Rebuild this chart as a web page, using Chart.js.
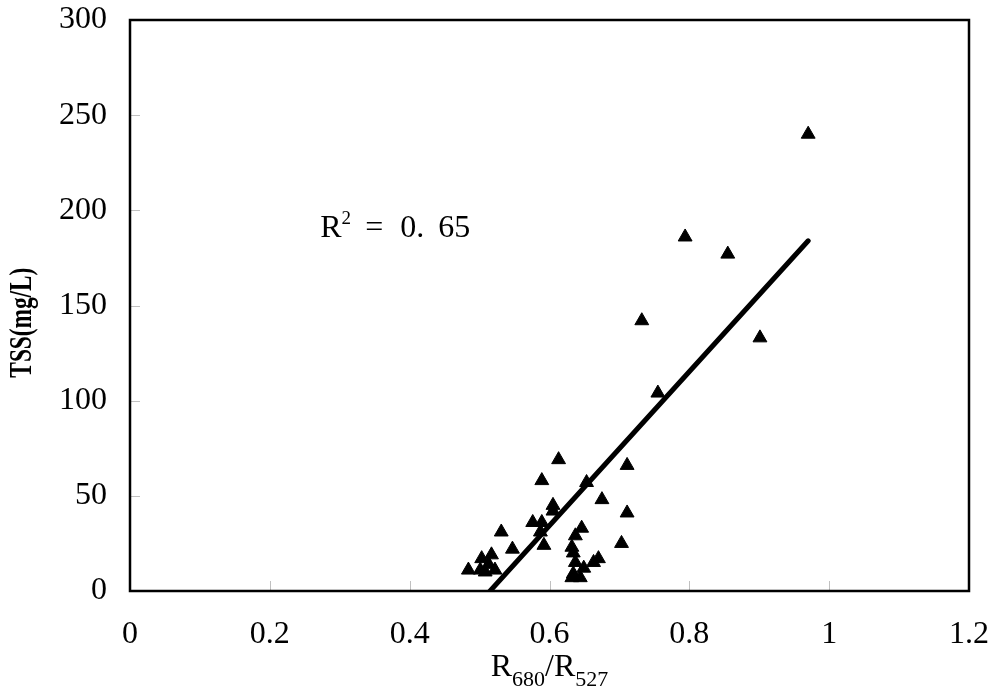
<!DOCTYPE html>
<html><head><meta charset="utf-8">
<script src="https://cdn.jsdelivr.net/npm/chart.js@4/dist/chart.umd.min.js"></script>
<style>html,body{margin:0;padding:0;background:#fff}canvas{display:block}</style>
</head><body>
<canvas id="c" width="1000" height="697"></canvas>
<script>
// ---- data ----
const ratioValues = [0.970, 0.794, 0.855, 0.732, 0.901, 0.755, 0.613, 0.711, 0.589, 0.653,
  0.675, 0.605, 0.605, 0.711, 0.589, 0.576, 0.646, 0.531, 0.587, 0.637,
  0.703, 0.592, 0.632, 0.547, 0.634, 0.517, 0.503, 0.670, 0.637, 0.663,
  0.513, 0.649, 0.484, 0.501, 0.522, 0.508, 0.634, 0.644, 0.632];
const tssValues = [240, 186, 177, 142, 133, 104, 69, 66, 58, 57,
  48, 45, 42, 41, 36, 36, 33, 31, 31, 29,
  25, 24, 23, 22, 20, 19, 17, 17, 15, 15,
  14, 12, 11, 11, 11, 10, 9, 7, 7];
const fitRatio = [0.515, 0.970];
const fitTss = [0, 184];
const xAxisRange = [0, 1.2];
const yAxisRange = [0, 300];
const xStep = 0.2;
const yStep = 50;
const yTitleText = 'TSS(mg/L)';
const xTitleParts = ['R', '680', '/R', '527'];
const r2Parts = ['R', '2', '=', '0.', '65'];
const r2Anchor = [0.272, 186];

const SERIF = '"Liberation Serif", "DejaVu Serif", serif';

const deco = {
  id: 'deco',
  beforeDraw(chart) {
    const ctx = chart.ctx;
    ctx.save();
    ctx.fillStyle = '#fff';
    ctx.fillRect(0, 0, chart.width, chart.height);
    ctx.restore();
  },
  beforeDatasetsDraw(chart) {
    const { ctx, chartArea: a, scales: { x, y } } = chart;
    ctx.save();
    ctx.strokeStyle = '#c0c0c0';
    ctx.lineWidth = 1;
    x.ticks.forEach(t => {
      const px = Math.round(x.getPixelForValue(t.value)) + 0.5;
      ctx.beginPath(); ctx.moveTo(px, a.bottom); ctx.lineTo(px, a.bottom - 10); ctx.stroke();
    });
    y.ticks.forEach(t => {
      const py = Math.round(y.getPixelForValue(t.value)) + 0.5;
      ctx.beginPath(); ctx.moveTo(a.left, py); ctx.lineTo(a.left + 10, py); ctx.stroke();
    });
    ctx.strokeStyle = '#000';
    ctx.lineWidth = 2.5;
    ctx.strokeRect(a.left, a.top, a.right - a.left, a.bottom - a.top);
    ctx.restore();
  },
  afterDraw(chart) {
    const { ctx, chartArea: a, scales: { x, y } } = chart;
    ctx.save();
    ctx.fillStyle = '#000';
    ctx.textBaseline = 'alphabetic';
    ctx.textAlign = 'left';

    // x-axis title with subscripts
    const big = '32px ' + SERIF, small = '22px ' + SERIF;
    const fonts = [big, small, big, small];
    const dys = [0, 10, 0, 10];
    let total = 0;
    const widths = xTitleParts.map((p, i) => { ctx.font = fonts[i]; const w = ctx.measureText(p).width; total += w; return w; });
    let cx = (a.left + a.right) / 2 - total / 2;
    const base = a.bottom + 85;
    xTitleParts.forEach((p, i) => {
      ctx.font = fonts[i];
      ctx.fillText(p, cx, base + dys[i]);
      cx += widths[i];
    });

    // y-axis title (rotated, condensed)
    ctx.save();
    ctx.font = 'bold 32px ' + SERIF;
    const tw = ctx.measureText(yTitleText).width;
    const sx = 110 / tw;
    ctx.translate(31, a.top + (a.bottom - a.top) * 0.53);
    ctx.rotate(-Math.PI / 2);
    ctx.scale(sx, 1);
    ctx.textAlign = 'center';
    ctx.fillText(yTitleText, 0, 0);
    ctx.restore();

    // R^2 annotation
    const rx = x.getPixelForValue(r2Anchor[0]);
    const ry = y.getPixelForValue(r2Anchor[1]);
    ctx.font = '32px ' + SERIF;
    ctx.fillText(r2Parts[0], rx, ry);
    const rw = ctx.measureText(r2Parts[0]).width;
    ctx.font = '19px ' + SERIF;
    ctx.fillText(r2Parts[1], rx + rw, ry - 13);
    ctx.font = '32px ' + SERIF;
    ctx.fillText(r2Parts[2], rx + 45, ry);
    ctx.fillText(r2Parts[3], rx + 80, ry);
    ctx.fillText(r2Parts[4], rx + 118, ry);
    ctx.restore();
  }
};

const scatterData = ratioValues.map((v, i) => ({ x: v, y: tssValues[i] }));
const fitData = fitRatio.map((v, i) => ({ x: v, y: fitTss[i] }));

new Chart(document.getElementById('c'), {
  type: 'scatter',
  data: {
    datasets: [
      { type: 'line', data: fitData, borderColor: '#000', borderWidth: 5, pointRadius: 0,
        fill: false, borderCapStyle: 'round', order: 0 },
      { data: scatterData, pointStyle: 'triangle', pointRadius: 8, backgroundColor: '#000',
        borderColor: '#000', borderWidth: 1, order: 1 }
    ]
  },
  options: {
    responsive: false,
    animation: false,
    devicePixelRatio: 1,
    layout: { padding: { top: 20, right: 31, left: 0, bottom: 0 } },
    plugins: { legend: { display: false }, tooltip: { enabled: false } },
    scales: {
      x: {
        type: 'linear', min: xAxisRange[0], max: xAxisRange[1],
        ticks: { stepSize: xStep, color: '#000', font: { family: SERIF, size: 32 }, padding: 24,
          maxRotation: 0, autoSkip: false,
          callback: v => String(Number(v.toFixed(1))) },
        grid: { display: false, drawTicks: false },
        border: { display: false },
        afterFit(s) { s.height = 106; s.paddingLeft = 0; s.paddingRight = 0; }
      },
      y: {
        type: 'linear', min: yAxisRange[0], max: yAxisRange[1],
        ticks: { stepSize: yStep, color: '#000', font: { family: SERIF, size: 32 }, padding: 23 },
        grid: { display: false, drawTicks: false },
        border: { display: false },
        afterFit(s) { s.width = 130; s.paddingTop = 0; s.paddingBottom = 0; }
      }
    }
  },
  plugins: [deco]
});
</script>
</body></html>
